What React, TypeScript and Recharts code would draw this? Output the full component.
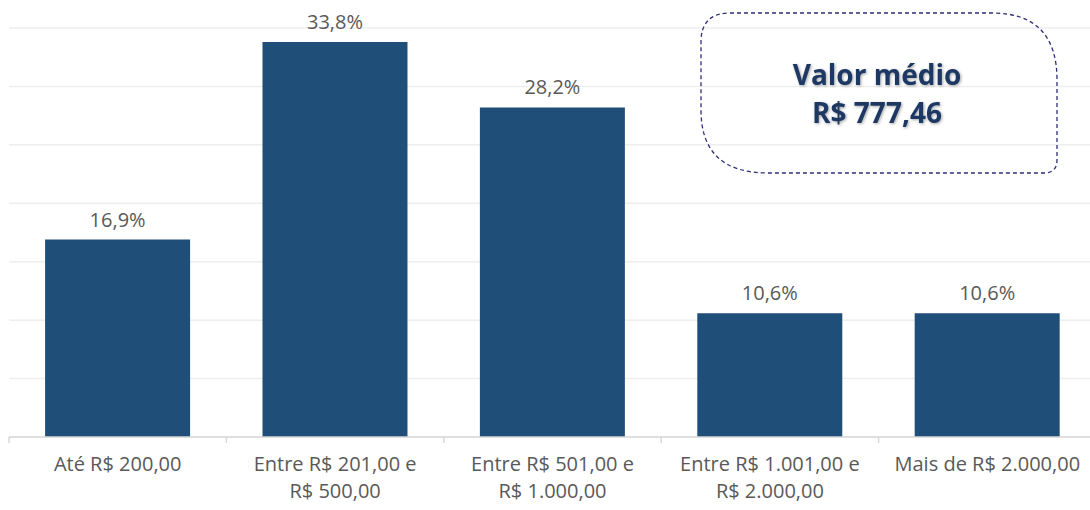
import React from 'react';
import {Bar, BarChart, CartesianGrid, LabelList, XAxis, YAxis} from 'recharts';

const CATEGORIES = [
    'Até R$ 200,00',
    'Entre R$ 201,00 e\nR$ 500,00',
    'Entre R$ 501,00 e\nR$ 1.000,00',
    'Entre R$ 1.001,00 e\nR$ 2.000,00',
    'Mais de R$ 2.000,00',
];
const SHARES = [16.9, 33.8, 28.2, 10.6, 10.6];
const Y_TICKS = [0, 5, 10, 15, 20, 25, 30, 35];
const EDGE_TICKS = [0, 1, 2, 3, 4, 5];
const AVERAGE_LINES = ['Valor médio', 'R$ 777,46'];

const BAR_COLOR = '#1F4E79';
const TEXT_COLOR = '#595959';
const AXIS_COLOR = '#D9D9D9';
const FONT = '"Open Sans", "Noto Sans", sans-serif';

const data = CATEGORIES.map((name, i) => ({name, value: SHARES[i], pos: i + 0.5}));

function formatPercent(value: unknown): string {
    return typeof value === 'number' ? `${value.toFixed(1).replace('.', ',')}%` : String(value ?? '');
}

function CategoryTick(props: any) {
    const {x, y, payload} = props;
    const lines = String(payload.value).split('\n');
    return (
        <text x={x} y={y} textAnchor="middle" fill={TEXT_COLOR} fontSize={20} fontFamily={FONT}>
            {lines.map((line, i) => (
                <tspan key={i} x={x} dy={i === 0 ? 25 : 27}>{line}</tspan>
            ))}
        </text>
    );
}

function EmptyTick() {
    return <g/>;
}

function AverageBox() {
    return (
        <svg width={1090} height={510} style={{position: 'absolute', left: 0, top: 0, pointerEvents: 'none'}}>
            <defs>
                <filter id="glow" x="-20%" y="-20%" width="140%" height="140%">
                    <feDropShadow dx="1" dy="1" stdDeviation="1.5" floodColor="#000" floodOpacity="0.35"/>
                </filter>
            </defs>
            <path
                d="M 730 13 L 992 13 Q 1057 13 1057 80 L 1057 160 Q 1057 173 1044 173 L 768 173 Q 701 173 701 110 L 701 42 Q 701 13 730 13 Z"
                fill="none"
                stroke="#2E2E7A"
                strokeWidth={1.3}
                strokeDasharray="4 3"
            />
            <text x={877} y={0} textAnchor="middle" fill="#1F3864" fontSize={28} fontWeight={700}
                  fontFamily={FONT} filter="url(#glow)">
                {AVERAGE_LINES.map((line, i) => (
                    <tspan key={i} x={877} dy={i === 0 ? 85 : 38}>{line}</tspan>
                ))}
            </text>
        </svg>
    );
}

export default function App() {
    return (
        <div style={{position: 'absolute', left: 0, top: 0, width: 1090, height: 510, overflow: 'hidden', background: '#fff'}}>
            <BarChart
                width={1096}
                height={510}
                data={data}
                margin={{top: 28, right: 0, left: 9, bottom: 0}}
                barCategoryGap="16.6%"
            >
                <CartesianGrid vertical={false} stroke="#EEEEEE" strokeWidth={1.5} xAxisId="labels"/>
                <XAxis
                    type="number"
                    dataKey="pos"
                    domain={[0, 5]}
                    ticks={EDGE_TICKS}
                    tick={EmptyTick}
                    height={1}
                    axisLine={{stroke: AXIS_COLOR, strokeWidth: 1.5}}
                    tickLine={{stroke: AXIS_COLOR, strokeWidth: 1.5}}
                    tickSize={6}
                />
                <XAxis
                    xAxisId="labels"
                    dataKey="name"
                    height={72}
                    axisLine={false}
                    tickLine={false}
                    interval={0}
                    tick={<CategoryTick/>}
                />
                <YAxis hide domain={[0, 35]} ticks={Y_TICKS}/>
                <Bar xAxisId="labels" dataKey="value" fill={BAR_COLOR} isAnimationActive={false}>
                    <LabelList
                        dataKey="value"
                        position="top"
                        offset={13}
                        formatter={formatPercent}
                        fill={TEXT_COLOR}
                        fontSize={20}
                        fontFamily={FONT}
                    />
                </Bar>
            </BarChart>
            <AverageBox/>
        </div>
    );
}
